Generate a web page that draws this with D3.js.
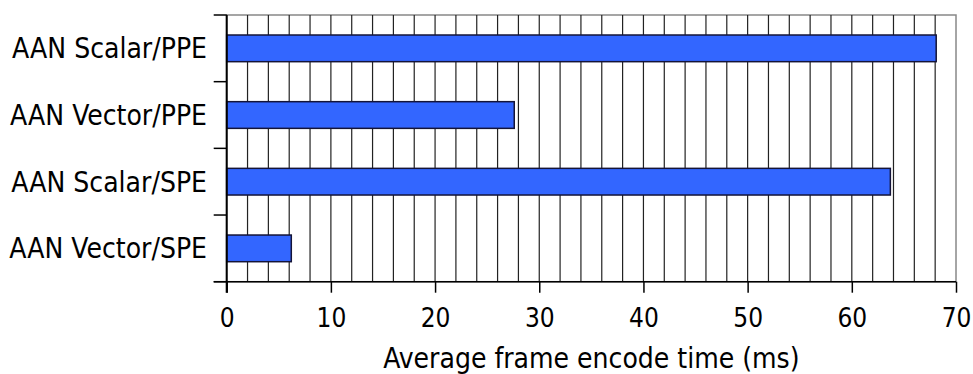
<!DOCTYPE html>
<html>
<head>
<meta charset="utf-8">
<script src="https://cdn.jsdelivr.net/npm/d3@7"></script>
<style>
  html, body { margin: 0; padding: 0; background: #fff; }
  svg { display: block; }
  text { font-family: "DejaVu Sans Condensed", "DejaVu Sans", Verdana, sans-serif; font-stretch: condensed; fill: #000; }
</style>
</head>
<body>
<svg id="chart" width="973" height="374"></svg>
<script>
const categories = ["AAN Scalar/PPE", "AAN Vector/PPE", "AAN Scalar/SPE", "AAN Vector/SPE"];
const values = [68.1, 27.6, 63.7, 6.2];
const xTicks = [0, 10, 20, 30, 40, 50, 60, 70];
const gridValues = d3.range(0, 71, 2);
const xTitle = "Average frame encode time (ms)";

const W = 973, H = 374;
const m = { left: 226.7, right: W - 956, top: 15, bottom: H - 281.7 };
const svg = d3.select("#chart");

const x = d3.scaleLinear().domain([0, 70]).range([m.left, W - m.right]);
const y = d3.scaleBand().domain(categories).range([m.top, H - m.bottom]).paddingInner(0.6).paddingOuter(0.3);
const yb = d3.scaleBand().domain(categories).range([m.top, H - m.bottom]);

// plot background + border
svg.append("rect")
  .attr("x", x(0)).attr("y", m.top)
  .attr("width", x(70) - x(0)).attr("height", H - m.bottom - m.top)
  .attr("fill", "#fff").attr("stroke", "#888").attr("stroke-width", 1.5);

// vertical gridlines
svg.append("g").selectAll("line").data(gridValues.filter(d => d > 0 && d < 70)).join("line")
  .attr("x1", d => x(d)).attr("x2", d => x(d))
  .attr("y1", m.top).attr("y2", H - m.bottom)
  .attr("stroke", "#222").attr("stroke-width", 1.2);

// bars
svg.append("g").selectAll("rect").data(categories).join("rect")
  .attr("x", x(0))
  .attr("y", d => y(d))
  .attr("width", (d, i) => x(values[i]) - x(0))
  .attr("height", y.bandwidth())
  .attr("fill", "#3366FF")
  .attr("stroke", "#141438").attr("stroke-width", 1.5);

// x axis
const xAxis = d3.axisBottom(x).tickValues(xTicks).tickSize(11).tickPadding(8).tickSizeOuter(0);
const gx = svg.append("g").attr("transform", `translate(0,${H - m.bottom})`).call(xAxis);
gx.select(".domain").remove();
gx.selectAll(".tick line").attr("stroke", "#000").attr("stroke-width", 1.5);
gx.selectAll(".tick text")
  .attr("font-size", 26)
  .attr("font-family", null)
  .attr("y", 45).attr("dy", null);
svg.append("line")
  .attr("x1", m.left - 13).attr("x2", x(70))
  .attr("y1", H - m.bottom).attr("y2", H - m.bottom)
  .attr("stroke", "#000").attr("stroke-width", 1.5);

// y axis
svg.append("line")
  .attr("x1", x(0)).attr("x2", x(0))
  .attr("y1", m.top).attr("y2", H - m.bottom + 11)
  .attr("stroke", "#000").attr("stroke-width", 2);
const bounds = categories.map(c => yb(c)).concat([H - m.bottom]);
svg.append("g").selectAll("line").data(bounds).join("line")
  .attr("x1", m.left - 13).attr("x2", m.left)
  .attr("y1", d => d).attr("y2", d => d)
  .attr("stroke", "#000").attr("stroke-width", 1.5);

svg.append("g").selectAll("text").data(categories).join("text")
  .attr("x", 207)
  .attr("y", d => yb(d) + yb.bandwidth() / 2 + 10)
  .attr("text-anchor", "end")
  .attr("font-size", 28)
  .text(d => d);

svg.append("text")
  .attr("x", (x(0) + x(70)) / 2)
  .attr("y", 368)
  .attr("text-anchor", "middle")
  .attr("font-size", 28)
  .text(xTitle);
</script>
</body>
</html>
